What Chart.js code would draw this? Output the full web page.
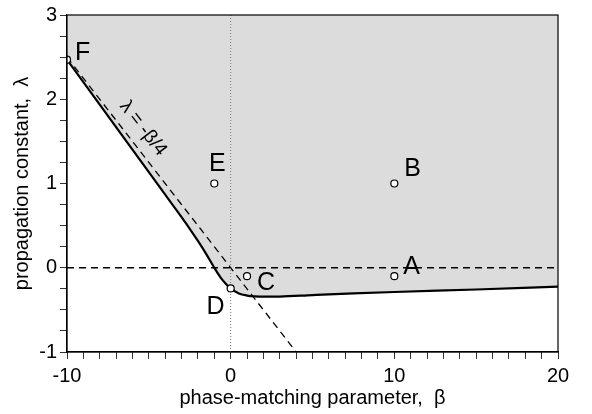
<!DOCTYPE html>
<html>
<head>
<meta charset="utf-8">
<script src="https://cdn.jsdelivr.net/npm/chart.js@4.4.1/dist/chart.umd.min.js"></script>
<style>
  html, body { margin: 0; padding: 0; background: #fff; }
  #wrap { width: 592px; height: 414px; }
</style>
</head>
<body>
<div id="wrap"><canvas id="chart" width="592" height="414"></canvas></div>
<script>
// boundary curve (solid line), beta vs lambda
const curveBeta   = [-10, -8, -6, -4, -3, -2.5, -2, -1.5, -1, -0.6, -0.3, 0, 0.5, 1, 1.5, 2, 3, 5, 7.5, 10, 15, 20];
const curveLambda = [2.47, 1.936, 1.402, 0.868, 0.60, 0.462, 0.318, 0.165, 0.0, -0.12, -0.19, -0.245, -0.305, -0.33, -0.34, -0.343, -0.342, -0.325, -0.305, -0.288, -0.258, -0.225];

// dashed asymptote lambda = -beta/4
const asymBeta   = [-10, 4];
const asymLambda = [2.5, -1];

// dashed lambda = 0 line
const zeroBeta   = [-10, 20];
const zeroLambda = [0, 0];

// marked points
const pointNames  = ['A', 'B', 'C', 'D', 'E', 'F'];
const pointBeta   = [10, 10, 1, 0, -1, -10];
const pointLambda = [-0.1, 1, -0.1, -0.245, 1, 2.47];

const xTicks = [-10, 0, 10, 20];
const yTicks = [-1, 0, 1, 2, 3];

// label placement (pixels relative to marker)
const labelOffsets = {
  A: { dx: 9, dy: -2, align: 'left' },
  B: { dx: 10, dy: -8, align: 'left' },
  C: { dx: 10, dy: 14, align: 'left' },
  D: { dx: -6, dy: 26, align: 'right' },
  E: { dx: 3, dy: -13, align: 'center' },
  F: { dx: 8, dy: 0, align: 'left' }
};

const FONT = '"Liberation Sans", Arial, sans-serif';
const zip = (xs, ys) => xs.map((x, i) => ({ x, y: ys[i] }));

const pointLabels = {
  id: 'pointLabels',
  afterDatasetsDraw(chart) {
    const { ctx, scales: { x, y } } = chart;
    ctx.save();
    ctx.fillStyle = '#000';
    ctx.font = '25px ' + FONT;
    ctx.textBaseline = 'alphabetic';
    pointNames.forEach((n, i) => {
      const o = labelOffsets[n];
      ctx.textAlign = o.align;
      ctx.fillText(n, x.getPixelForValue(pointBeta[i]) + o.dx, y.getPixelForValue(pointLambda[i]) + o.dy);
    });
    // rotated label along the asymptote
    const x0 = x.getPixelForValue(asymBeta[0]), y0 = y.getPixelForValue(asymLambda[0]);
    const x1 = x.getPixelForValue(asymBeta[1]), y1 = y.getPixelForValue(asymLambda[1]);
    const ang = Math.atan2(y1 - y0, x1 - x0);
    ctx.translate(x.getPixelForValue(-5.45), y.getPixelForValue(1.64));
    ctx.rotate(ang);
    ctx.textAlign = 'center';
    ctx.textBaseline = 'middle';
    ctx.font = '19px ' + FONT;
    ctx.fillText('λ = -β/4', 0, -2);
    ctx.restore();
  }
};

const frame = {
  id: 'frame',
  afterDraw(chart) {
    const { ctx, chartArea: a } = chart;
    ctx.save();
    ctx.strokeStyle = '#000';
    ctx.lineWidth = 1.2;
    ctx.strokeRect(a.left, a.top, a.right - a.left, a.bottom - a.top);
    ctx.restore();
  }
};

new Chart(document.getElementById('chart'), {
  type: 'scatter',
  data: {
    datasets: [
      {
        label: 'points',
        data: zip(pointBeta, pointLambda),
        pointRadius: 3.5,
        pointBackgroundColor: '#fff',
        pointBorderColor: '#000',
        pointBorderWidth: 1.2,
        showLine: false
      },
      {
        label: 'zero',
        data: zip(zeroBeta, zeroLambda),
        showLine: true,
        borderColor: '#000',
        borderWidth: 1.3,
        borderDash: [7, 5],
        pointRadius: 0
      },
      {
        label: 'asymptote',
        data: zip(asymBeta, asymLambda),
        showLine: true,
        borderColor: '#000',
        borderWidth: 1.3,
        borderDash: [7, 5],
        pointRadius: 0
      },
      {
        label: 'axis',
        data: [{ x: 0, y: -1 }, { x: 0, y: 3 }],
        showLine: true,
        borderColor: '#777',
        borderWidth: 1,
        borderDash: [1, 2],
        pointRadius: 0
      },
      {
        label: 'boundary',
        data: zip(curveBeta, curveLambda),
        showLine: true,
        borderColor: '#000',
        borderWidth: 2.2,
        backgroundColor: '#dcdcdc',
        fill: 'end',
        cubicInterpolationMode: 'monotone',
        pointRadius: 0
      }
    ]
  },
  options: {
    responsive: false,
    animation: false,
    devicePixelRatio: 1,
    layout: { padding: { top: 9, right: 34, left: 0, bottom: 0 } },
    plugins: { legend: { display: false }, tooltip: { enabled: false } },
    scales: {
      x: {
        type: 'linear',
        min: -10, max: 20,
        afterFit: s => { s.height = 62; },
        ticks: {
          stepSize: 1, autoSkip: false, maxRotation: 0, padding: 5,
          color: '#000', font: { family: FONT, size: 20 },
          callback: v => xTicks.includes(v) ? String(v) : ''
        },
        grid: { drawOnChartArea: false, tickLength: 7, color: '#333' },
        border: { color: '#000', width: 1.2 },
        title: {
          display: true, text: 'phase-matching parameter,  β',
          color: '#000', font: { family: FONT, size: 20 },
          padding: { top: 0, bottom: 4 }
        }
      },
      y: {
        type: 'linear',
        min: -1, max: 3,
        afterFit: s => { s.width = 67; },
        ticks: {
          stepSize: 0.25, autoSkip: false, padding: 3,
          color: '#000', font: { family: FONT, size: 20 },
          callback: v => yTicks.includes(v) ? String(v) : ''
        },
        grid: { drawOnChartArea: false, tickLength: 7, color: '#333' },
        border: { color: '#000', width: 1.2 },
        title: {
          display: true, text: 'propagation constant,  λ',
          color: '#000', font: { family: FONT, size: 20 },
          padding: { top: 10, bottom: 0 }
        }
      }
    }
  },
  plugins: [pointLabels, frame]
});
</script>
</body>
</html>
